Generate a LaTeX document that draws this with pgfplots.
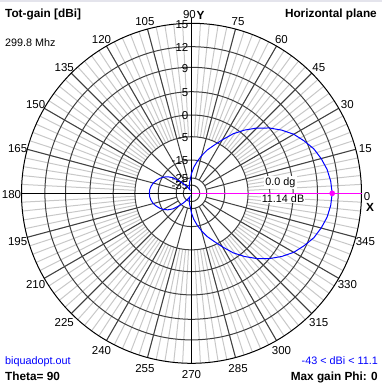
\documentclass[border=0pt]{standalone}
\usepackage{pgfplots}
\pgfplotsset{compat=1.18}
\usepackage{pgfplotstable}
\usepackage{fontspec}
\setmainfont{Liberation Sans}
\definecolor{gridd}{RGB}{64,64,64}
\definecolor{gridl}{RGB}{200,200,200}
\definecolor{topband}{RGB}{228,228,236}
\definecolor{pblue}{RGB}{0,0,255}
\definecolor{pmag}{RGB}{255,0,255}
\newcommand\numf{\fontsize{11.5bp}{13bp}\selectfont}
\newcommand\txtf{\fontsize{10.8bp}{13bp}\selectfont}
\newcommand\bldf{\fontsize{11.8bp}{13bp}\selectfont\bfseries}
% radial scale of the plot (dB -> pixel radius), from the grid circles
\newcommand\radof[1]{%
 \pgfmathsetmacro\rad{(#1>=12)?(146.6+(#1-12)*7.8):((#1>=9)?(126+(#1-9)*6.8667):((#1>=5)?(101.6+(#1-5)*6.1):((#1>=0)?(78.3+(#1)*4.66):((#1>=-5)?(56.6+(#1+5)*4.34):((#1>=-15)?(33.3+(#1+15)*2.33):((#1>=-25)?(15.3+(#1+25)*1.8):((#1>=-35)?(8.3+(#1+35)*0.7):(max(1,8.3+(#1+35)*0.55)))))))))}%
}
\pgfplotstableread{
angle gain
0 11.14
5 11.0
10 10.7
15 10.2
20 9.6
25 8.7
30 7.7
35 6.4
40 5.0
45 3.0
50 0.9
55 -1.3
60 -3.8
65 -6.6
70 -9.5
75 -12.6
80 -15.6
85 -19.0
90 -22.5
95 -27
100 -31
105 -35
110 -39
115 -43
120 -40
125 -35
130 -29
135 -23.5
140 -20
145 -17.5
150 -15.5
155 -14.2
160 -13.2
165 -12.3
170 -11.7
175 -11.3
180 -11.2
185 -11.3
190 -11.7
195 -12.3
200 -13.2
205 -14.2
210 -15.5
215 -17.5
220 -20
225 -23.5
230 -29
235 -35
240 -40
245 -43
250 -39
255 -35
260 -31
265 -27
270 -22.5
275 -19.0
280 -15.6
285 -12.6
290 -9.5
295 -6.6
300 -3.8
305 -1.3
310 0.9
315 3.0
320 5.0
325 6.4
330 7.7
335 8.7
340 9.6
345 10.2
350 10.7
355 11.0
360 11.14
}\pattern
\pgfplotstablecreatecol[create col/assign/.code={%
  \pgfmathsetmacro\g{\thisrow{gain}}%
  \radof{\g}%
  \pgfmathsetmacro\xx{191.5+\rad*cos(\thisrow{angle})}%
  \pgfkeyslet{/pgfplots/table/create col/next content}\xx}]{px}\pattern
\pgfplotstablecreatecol[create col/assign/.code={%
  \pgfmathsetmacro\g{\thisrow{gain}}%
  \radof{\g}%
  \pgfmathsetmacro\yy{190.7+\rad*sin(\thisrow{angle})}%
  \pgfkeyslet{/pgfplots/table/create col/next content}\yy}]{py}\pattern
\begin{document}
\begin{tikzpicture}
\path[use as bounding box] (0,0) rectangle (382bp,384bp);
\begin{scope}[x=1bp,y=1bp]
\fill[topband] (0,381.5) rectangle (382,384);
\foreach \a in {0,3,...,357}
  \draw[gridl, line width=1bp] ({191.5+56.6*cos(\a)},{190.7+56.6*sin(\a)}) -- ({191.5+170*cos(\a)},{190.7+170*sin(\a)});
\foreach \a in {15,30,...,345}
  \draw[gridd, line width=1bp] ({191.5+15.3*cos(\a)},{190.7+15.3*sin(\a)}) -- ({191.5+170*cos(\a)},{190.7+170*sin(\a)});
\foreach \r in {146.6,126,101.6,78.3,56.6,33.3,15.3,8.3}
  \draw[gridd, line width=1bp] (191.5,190.7) circle[radius=\r bp];
\draw[black, line width=1bp] (191.5,190.7) circle[radius=170bp];
\draw[black, line width=1bp] (21.5,190.7) -- (191.5,190.7);
\draw[black, line width=1bp] (191.5,20.7) -- (191.5,366);
% angle labels
\foreach \a in {15,30,...,345}{
  \ifnum\a=90\relax\else
  \node[font=\numf, inner sep=0pt] at ({191.5+180*cos(\a)},{189+180*sin(\a)}) {\a};
  \fi}
\node[font=\numf, inner sep=0pt] at (189.5,369) {90};
\node[font=\bldf, inner sep=0pt] at (200.5,369) {Y};
\node[font=\numf, inner sep=0pt] at (367,187) {0};
\node[font=\bldf, inner sep=0pt] at (370,177) {X};
% dB labels
\foreach \r/\t in {170/15,146.6/12,126/9,101.6/5,78.3/0,56.6/-5,33.3/-15,15.3/-25,8.3/-35}
  \node[font=\numf, inner sep=0pt, anchor=east] at (188.5,{190.7+\r-1}) {\t};
\end{scope}
\begin{axis}[at={(0,0)}, anchor=south west, x=1bp, y=1bp,
  xmin=0, xmax=382, ymin=0, ymax=384, hide axis, clip=false]
\addplot[pblue, line width=1bp, no markers] table[x=px, y=py] {\pattern};
\addplot[pmag, line width=1bp, no markers] coordinates {(191.5,190.7) (361.5,190.7)};
\end{axis}
\begin{scope}[x=1bp,y=1bp]
\node[font=\txtf, fill=white, inner sep=1pt] at (280.5,201.5) {0.0 dg};
\node[font=\txtf, fill=white, inner sep=1pt] at (283,185.5) {11.14 dB};
\node[font=\bldf, anchor=base west, inner sep=0pt] at (5,366.5) {Tot-gain [dBi]};
\node[font=\bldf, anchor=base east, inner sep=0pt] at (377,366.5) {Horizontal plane};
\node[font=\txtf, anchor=base west, inner sep=0pt] at (5,337.5) {299.8 Mhz};
\node[font=\txtf, anchor=base west, inner sep=0pt, text=pblue] at (5,19.5) {biquadopt.out};
\node[font=\bldf, anchor=base west, inner sep=0pt] at (5,4) {Theta= 90};
\node[font=\txtf, anchor=base east, inner sep=0pt, text=pblue] at (378,19.5) {-43 < dBi < 11.1};
\node[font=\bldf, anchor=base east, inner sep=0pt] at (378,4) {Max gain Phi: 0};
\end{scope}
\begin{axis}[at={(0,0)}, anchor=south west, x=1bp, y=1bp,
  xmin=0, xmax=382, ymin=0, ymax=384, hide axis, clip=false]
\addplot[only marks, mark=*, mark size=2.6bp, pmag] coordinates {(332.2,190.7)};
\end{axis}
\end{tikzpicture}
\end{document}
